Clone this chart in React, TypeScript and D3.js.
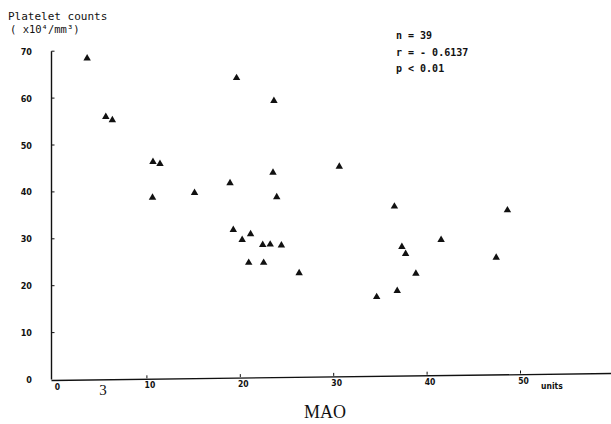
import React from "react";
import * as d3 from "d3";

const mao: number[] = [3.6, 5.6, 6.3, 10.65, 11.4, 10.6, 15.1, 18.9, 19.6, 23.6, 23.5, 23.9, 19.25, 20.2, 21.1, 22.4, 23.2, 24.4, 20.9, 22.5, 26.3, 30.6, 36.5, 48.6, 41.5, 37.3, 37.7, 47.4, 38.8, 36.8, 34.6];
const platelets: number[] = [68.5, 56.0, 55.3, 46.4, 46.0, 38.8, 39.8, 41.9, 64.3, 59.4, 44.1, 38.9, 31.9, 29.8, 31.0, 28.7, 28.8, 28.6, 24.9, 24.9, 22.7, 45.4, 36.9, 36.1, 29.8, 28.3, 26.8, 26.0, 22.6, 18.9, 17.6];
const xTicks: number[] = [10, 20, 30, 40, 50];
const yTicks: number[] = [10, 20, 30, 40, 50, 60, 70];
const statsLines: string[] = ["n = 39", "r = - 0.6137", "p < 0.01"];

export default function App() {
  const W = 611, H = 424;
  const x = d3.scaleLinear().domain([0, 50]).range([53.5, 520.5]);
  const y = d3.scaleLinear().domain([0, 70]).range([379.5, 51.2]);
  const tri = d3.symbol().type(d3.symbolTriangle).size(24)() as string;
  const mono = "'DejaVu Sans Mono', monospace";
  const sans = "'DejaVu Sans Condensed', 'DejaVu Sans', sans-serif";
  const serif = "'Liberation Serif', 'DejaVu Serif', serif";
  const axX = x(0) - 2;
  return (
    <svg width={W} height={H} style={{ position: "absolute", left: 0, top: 0, background: "#fff" }}>
      <rect width={W} height={H} fill="#fff" />
      <text x={8} y={20} fontFamily={mono} fontSize={11} fill="#111">Platelet counts</text>
      <text x={10} y={33} fontFamily={mono} fontSize={10.5} fill="#111">( x10⁴/mm³)</text>
      {/* y axis */}
      <line x1={axX} y1={y(70)} x2={axX} y2={y(0)} stroke="#111" strokeWidth={1.4} />
      {yTicks.map(t => (
        <g key={"y" + t}>
          <line x1={axX} x2={axX + 3} y1={y(t)} y2={y(t)} stroke="#111" strokeWidth={1} />
          <text x={32} y={y(t) + 3.5} textAnchor="end" fontFamily={sans} fontSize={9} fontWeight="bold" fill="#111">{t}</text>
        </g>
      ))}
      <text x={32} y={y(0) + 3.5} textAnchor="end" fontFamily={sans} fontSize={9} fontWeight="bold" fill="#111">0</text>
      {/* x axis */}
      <line x1={axX} y1={y(0) + 1} x2={W} y2={y(0) - 6} stroke="#111" strokeWidth={1.3} />
      {xTicks.map(t => (
        <g key={"x" + t}>
          <line x1={x(t)} x2={x(t)} y1={y(0) - 1.2 * t / 10} y2={y(0) - 1.2 * t / 10 - 3} stroke="#111" strokeWidth={1} />
          <text x={x(t) + 3} y={y(0) + 10 - 1.1 * t / 10} textAnchor="middle" fontFamily={sans} fontSize={8.5} fontWeight="bold" fill="#111">{t}</text>
        </g>
      ))}
      <text x={x(0) + 4} y={y(0) + 10} textAnchor="middle" fontFamily={sans} fontSize={8.5} fontWeight="bold" fill="#111">0</text>
      <text x={541} y={y(0) + 9} fontFamily={sans} fontSize={8.5} fontWeight="bold" fill="#111">units</text>
      <text x={103} y={y(0) + 15} textAnchor="middle" fontFamily={serif} fontSize={15} fill="#111">3</text>
      <text x={325} y={418} textAnchor="middle" fontFamily={serif} fontSize={18} fill="#111">MAO</text>
      {/* stats */}
      {statsLines.map((s, i) => (
        <text key={s} x={396} y={39 + i * 16.5} fontFamily={mono} fontSize={10} fontWeight="bold" fill="#111">{s}</text>
      ))}
      {/* points */}
      {mao.map((v, i) => (
        <path key={i} d={tri} transform={`translate(${x(v)},${y(platelets[i])})`} fill="#111" />
      ))}
    </svg>
  );
}
